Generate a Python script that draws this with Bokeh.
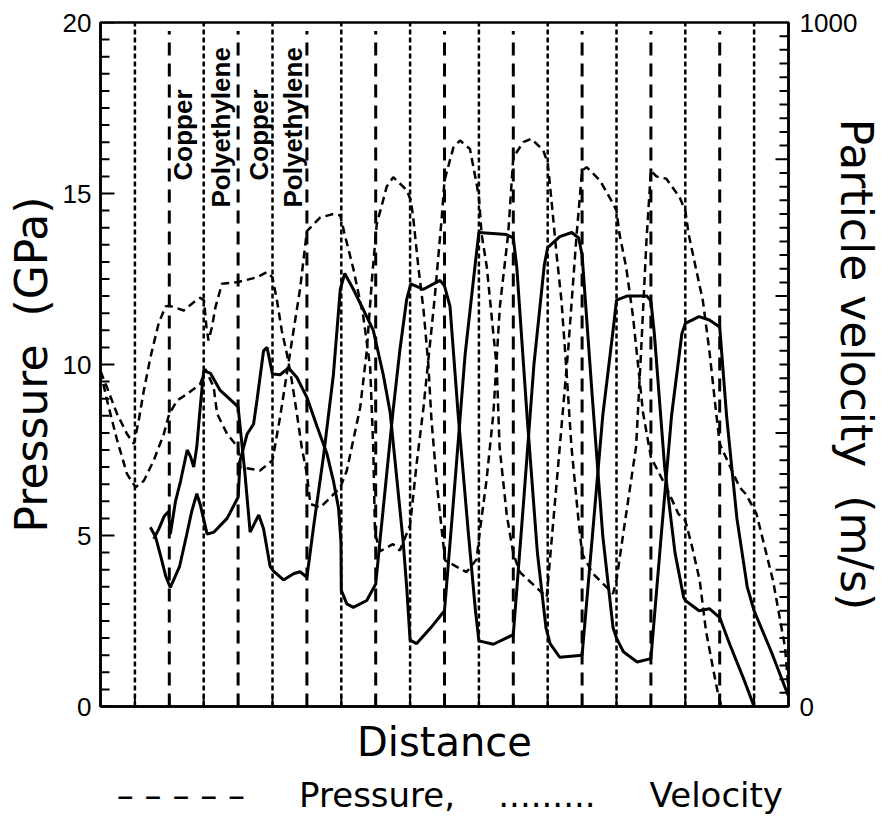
import math
from bokeh.plotting import figure
from bokeh.models import Range1d, LinearAxis, FixedTicker
from bokeh.core.properties import value
from bokeh.embed import file_html
from bokeh.resources import INLINE

# ---------------- data ----------------
# layer boundaries (distance units)
boundaries = list(range(1, 20))

# pressure profiles (GPa), two snapshots, drawn dashed
p1_x = [0.0, 0.15, 0.48, 0.77, 0.97, 1.11, 1.26, 1.45, 1.69, 1.89, 2.0, 2.42, 2.71, 2.9, 3.01, 3.08, 3.14, 3.24, 3.34, 3.53,
        4.0, 4.55, 4.84, 5.0, 5.13, 5.27, 5.42, 5.56, 5.71, 5.85, 6.0, 6.1, 6.39, 6.77, 6.97, 7.16, 7.35, 7.55, 7.74, 7.9,
        8.03, 8.32, 8.51, 8.9, 9.02, 9.09, 9.24, 9.39, 9.53, 9.62, 9.77, 9.92, 10.02, 10.64, 10.93, 11.03, 11.22, 11.42, 11.61, 11.85,
        12.0, 12.29, 12.53, 12.87, 13.0, 13.11, 13.25, 13.4, 13.54, 13.69, 13.88, 14.0, 14.3, 14.9, 15.0, 15.28, 15.57, 15.72, 15.87,
        16.0, 16.16, 16.45, 16.83, 17.0, 17.1, 17.3, 17.51, 17.7, 17.9, 18.0, 18.58, 18.77, 19.07, 19.55, 19.9, 20.0]
p1_y = [9.8, 9.43, 8.56, 7.97, 7.68, 8.36, 9.24, 10.2, 11.2, 11.7, 11.72, 11.58, 11.82, 11.95, 11.87, 11.09, 10.7, 11.09, 11.67, 12.36,
        12.41, 12.55, 12.7, 12.55, 11.87, 10.99, 10.3, 9.53, 8.56, 7.58, 6.8, 5.92, 5.82, 6.2, 6.4, 6.9, 7.8, 8.75, 10.4, 12.6,
        14.1, 15.2, 15.48, 15.1, 14.8, 14.3, 12.85, 11.6, 10.0, 8.4, 6.6, 5.15, 4.27, 3.93, 4.3, 5.15, 6.6, 8.56, 11.7, 13.8,
        16.06, 16.5, 16.6, 16.26, 15.9, 14.8, 13.3, 11.87, 9.9, 7.6, 5.6, 4.47, 3.9, 3.3, 3.7, 5.63, 7.6, 10.5, 13.6,
        15.67, 15.5, 15.43, 14.9, 14.5, 13.8, 12.85, 11.87, 10.4, 8.56, 7.68, 6.41, 6.2, 5.63, 3.68, 1.73, 0.47]

p2_x = [0.0, 0.19, 0.48, 0.77, 1.02, 1.26, 1.55, 1.84, 2.0, 2.23, 2.52, 2.9, 3.05, 3.29, 3.39, 3.68, 4.0, 4.06, 4.64, 5.0,
        5.22, 5.52, 5.8, 6.0, 6.39, 6.77, 6.97, 7.1, 7.35, 7.64, 7.84, 7.93, 7.98, 8.13, 8.5, 8.7, 9.0, 9.19, 9.39, 9.72,
        9.92, 10.0, 10.26, 10.45, 10.74, 10.93, 11.0, 11.08, 11.23, 11.42, 11.52, 11.6, 11.81, 12.0, 12.19, 12.97, 13.3, 13.6, 13.84,
        14.0, 14.13, 14.52, 14.9, 15.0, 15.09, 15.28, 15.48, 15.77, 16.0, 16.45, 16.8, 17.0, 17.2, 17.42, 17.6, 17.8, 17.95, 18.05]
p2_y = [9.8, 8.95, 7.8, 6.8, 6.41, 6.6, 7.2, 7.97, 8.56, 8.95, 9.14, 9.43, 9.87, 9.34, 8.56, 7.97, 7.57, 7.0, 6.9, 7.2,
        8.46, 10.4, 12.2, 13.9, 14.3, 14.4, 14.36, 13.8, 12.8, 11.4, 9.9, 7.5, 5.05, 4.54, 4.75, 4.56, 5.3, 7.1, 8.75, 12.0,
        14.3, 15.38, 16.35, 16.55, 16.3, 15.3, 14.9, 13.8, 12.85, 10.9, 9.9, 7.6, 5.6, 4.47, 3.93, 3.2, 7.0, 10.5, 13.8,
        15.67, 15.77, 15.38, 14.7, 14.5, 13.8, 12.85, 11.4, 8.6, 7.29, 6.41, 5.63, 5.44, 4.66, 3.68, 2.22, 1.15, 0.38, 0.0]

# particle velocity profiles (m/s), two snapshots, drawn solid
v1_x = [1.45, 1.6, 1.75, 1.9, 2.03, 2.3, 2.5, 2.65, 2.8, 2.9, 3.1, 3.3, 3.68, 4.0, 4.06, 4.26, 4.45, 4.55, 4.74, 4.84,
        5.0, 5.22, 5.47, 5.71, 6.0, 6.29, 6.58, 6.77, 6.92, 6.99, 7.0, 7.16, 7.35, 7.74, 8.0, 8.13, 8.32, 8.5, 8.7, 8.9,
        9.02, 9.39, 9.87, 10.0, 10.16, 10.4, 10.7, 10.9, 11.0, 11.42, 12.0, 12.3, 12.6, 12.9, 13.0, 13.35, 13.7, 13.9, 14.0,
        14.3, 14.6, 14.9, 15.0, 15.2, 15.6, 16.0, 16.3, 16.6, 16.9, 17.0, 17.4, 17.7, 18.0, 18.2, 18.5, 18.8, 19.0, 19.5, 20.0]
v1_y = [262, 248, 220, 190, 174, 205, 250, 285, 311, 295, 252, 255, 275, 306, 360, 398, 413, 448, 520, 525,
        486, 485, 495, 481, 452, 410, 370, 330, 290, 240, 170, 150, 145, 155, 179, 245, 340, 430, 520, 595,
        618, 610, 623, 615, 585, 425, 250, 140, 96, 91, 105, 300, 500, 645, 671, 687, 693, 685, 660,
        450, 250, 115, 100, 80, 65, 70, 250, 425, 545, 560, 570, 565, 555, 425, 275, 175, 140, 80, 15]

v2_x = [1.55, 1.7, 1.85, 1.98, 2.03, 2.18, 2.33, 2.52, 2.62, 2.71, 2.8, 2.9, 3.0, 3.2, 3.48, 3.68, 4.0, 4.1, 4.2, 4.35,
        4.5, 4.6, 4.74, 4.93, 5.03, 5.32, 5.61, 5.8, 6.0, 6.2, 6.48, 6.77, 6.97, 7.1, 7.35, 7.74, 7.93, 8.22, 8.42, 8.6,
        8.8, 8.9, 9.0, 9.19, 9.6, 10.0, 10.3, 10.6, 10.9, 11.0, 11.8, 12.0, 12.1, 12.4, 12.7, 12.95, 13.07, 13.35, 14.0,
        14.3, 14.6, 14.9, 15.0, 15.3, 15.88, 16.0, 16.1, 16.4, 16.7, 16.95, 17.0, 17.4, 17.7, 18.0, 18.3, 18.7, 19.0]
v2_y = [245, 260, 278, 285, 252, 300, 330, 375, 365, 350, 380, 438, 491, 487, 462, 453, 438, 389, 340, 255,
        270, 280, 260, 205, 198, 185, 194, 197, 189, 265, 365, 485, 610, 633, 610, 570, 550, 485, 430, 340,
        240, 175, 97, 92, 115, 140, 325, 515, 650, 693, 690, 685, 643, 425, 225, 115, 92, 72, 75,
        250, 425, 550, 594, 600, 600, 593, 545, 350, 225, 160, 155, 140, 143, 130, 90, 40, 0]

# layer names
layer_names = ["Copper", "Polyethylene", "Copper", "Polyethylene"]
label_x = [2.41, 3.51, 4.62, 5.60]
label_y = [15.38, 14.59, 15.38, 14.59]

# tick positions
p_major = [0, 5, 10, 15, 20]
p_minor = [i * 0.5 for i in range(1, 40) if i % 10 != 0]
v_major = [0, 1000]
v_mid = [200, 400, 600, 800]
v_minor = [v for v in range(20, 1000, 20) if v % 200 != 0]

# ---------------- figure ----------------
FONT_TITLE = "DejaVu Sans"
FONT_TICK = "Liberation Sans"

p = figure(width=885, height=817, output_backend="svg", toolbar_location=None,
           x_range=Range1d(0, 20), y_range=Range1d(0, 20),
           x_axis_location=None, y_axis_location=None,
           min_border_left=100, min_border_right=96, min_border_top=22, min_border_bottom=111)
p.extra_y_ranges = {"vel": Range1d(0, 1000)}
p.grid.visible = False
p.outline_line_color = "black"
p.outline_line_width = 2.5
p.background_fill_color = "white"
p.border_fill_color = "white"

def style_axis(ax):
    ax.axis_line_width = 2.5
    ax.axis_line_color = "black"
    ax.major_tick_out = 0
    ax.minor_tick_out = 0
    ax.major_tick_in = 0
    ax.minor_tick_in = 0
    ax.major_tick_line_color = None
    ax.minor_tick_line_color = None
    ax.major_label_text_font = FONT_TICK
    ax.major_label_text_font_size = "26px"
    ax.major_label_text_color = "black"

# left pressure axis
left = LinearAxis(ticker=FixedTicker(ticks=p_major, minor_ticks=[]))
style_axis(left)
left.major_label_standoff = 9
left.axis_label = "Pressure\u00a0\u00a0(GPa)"
left.axis_label_text_font = FONT_TITLE
left.axis_label_text_font_size = "44px"
left.axis_label_text_font_style = "normal"
left.axis_label_standoff = 3
left.axis_label_text_color = "black"
p.add_layout(left, "left")

# right velocity axis
right = LinearAxis(y_range_name="vel", ticker=FixedTicker(ticks=v_major, minor_ticks=[]))
style_axis(right)
right.major_label_standoff = 11
right.axis_label = "Particle velocity\u00a0\u00a0(m/s)"
right.axis_label_text_font = FONT_TITLE
right.axis_label_text_font_size = "44px"
right.axis_label_text_font_style = "normal"
right.axis_label_text_color = "black"
right.axis_label_standoff = -29
p.add_layout(right, "right")

# bottom distance axis
bottom = LinearAxis(ticker=FixedTicker(ticks=[], minor_ticks=[]))
style_axis(bottom)
bottom.major_label_standoff = 0
bottom.axis_label = "Distance"
bottom.axis_label_text_font = FONT_TITLE
bottom.axis_label_text_font_size = "40px"
bottom.axis_label_text_font_style = "normal"
bottom.axis_label_standoff = 12
bottom.axis_label_text_color = "black"
p.add_layout(bottom, "below")

# legend line (as in the original figure caption)
leg = LinearAxis(ticker=FixedTicker(ticks=[], minor_ticks=[]))
leg.axis_line_color = None
leg.major_tick_line_color = None
leg.minor_tick_line_color = None
leg.major_label_standoff = 0
NB = "\u00a0"
leg.axis_label = (NB + "\u2013 \u2013 \u2013 \u2013 \u2013" + NB * 5 + "Pressure," + NB * 4 +
                  "........." + NB * 5 + "Velocity")
leg.axis_label_text_font = FONT_TITLE
leg.axis_label_text_font_size = "34px"
leg.axis_label_text_font_style = "normal"
leg.axis_label_standoff = 7
leg.axis_label_text_color = "black"
p.add_layout(leg, "below")

# inward tick marks
TK = dict(line_color="black", line_width=2, length_units="screen")
p.ray(x=[0] * len(p_minor), y=p_minor, length=9, angle=0, **TK)
p.ray(x=[0] * len(p_major), y=p_major, length=14, angle=0, **TK)
p.ray(x=[20] * len(v_minor), y=v_minor, y_range_name="vel", length=9, angle=math.pi, **TK)
p.ray(x=[20] * len(v_mid), y=v_mid, y_range_name="vel", length=13, angle=math.pi, **TK)
p.ray(x=boundaries, y=[0] * len(boundaries), length=10, angle=math.pi / 2, **TK)

# layer boundaries
odd_b = [b for b in boundaries if b % 2 == 1]
even_b = [b for b in boundaries if b % 2 == 0]
p.segment(x0=odd_b, y0=[0] * len(odd_b), x1=odd_b, y1=[20] * len(odd_b),
          line_color="black", line_width=2.5, line_dash="5 3")
p.segment(x0=even_b, y0=[0] * len(even_b), x1=even_b, y1=[19.75] * len(even_b),
          line_color="black", line_width=3, line_dash="13 8")

# curves
p.line(p1_x, p1_y, line_color="black", line_width=2.5, line_dash="8 5")
p.line(p2_x, p2_y, line_color="black", line_width=2.5, line_dash="8 5")
p.line(v1_x, v1_y, y_range_name="vel", line_color="black", line_width=3)
p.line(v2_x, v2_y, y_range_name="vel", line_color="black", line_width=3)

# layer names
p.text(x=label_x, y=label_y, text=layer_names, angle=math.pi / 2,
       text_align="left", text_baseline="middle",
       text_font=value("Liberation Sans"), text_font_style="bold",
       text_font_size="26px", text_color="black")

open("out.html", "w").write(file_html(p, INLINE))
